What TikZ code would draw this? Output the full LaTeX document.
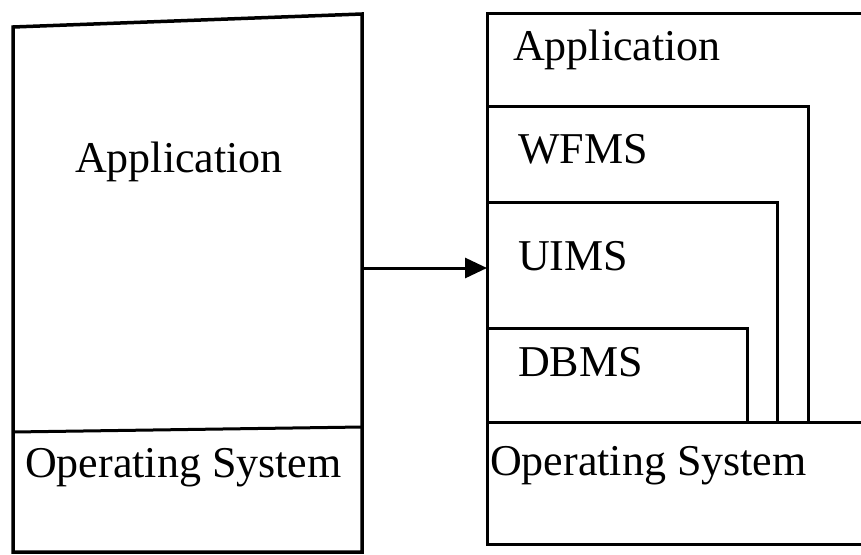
\documentclass[tikz,border=0pt]{standalone}
\usepackage{fontspec}
\setmainfont{Liberation Serif}
\usetikzlibrary{arrows.meta}

\begin{document}
\begin{tikzpicture}[x=1pt, y=-1pt]

\tikzstyle{every node} = [inner sep=0pt, font=\fontsize{44}{48}\selectfont]
\tikzstyle{lbl} = [anchor=base west]
\tikzstyle{frame} = [line width=3pt, line join=miter]

\useasboundingbox (0,0) rectangle (861,554);

% left side
\coordinate (la) at (13,552);
\coordinate (lb) at (13,27);
\coordinate (lc) at (362,14);
\coordinate (ld) at (362,552);
\draw[frame, line width=3.5pt] (la) -- (lb) -- (lc) -- (ld) -- cycle;
\draw[frame] (13,432) -- (362,427);

\node[lbl] (app1) at (75,172) {Application};
\node[lbl] (os1) at (25,477) {Operating System};

% right side
\draw[frame] (861,13) -- (487,13) -- (487,544) -- (861,544);
\draw[frame] (487,422) -- (861,422);
\draw[frame] (487,106) -- (808,106) -- (808,422);
\draw[frame] (487,202) -- (777,202) -- (777,422);
\draw[frame] (487,328) -- (747,328) -- (747,422);

\node[lbl] (app2) at (513,60) {Application};
\node[lbl] (wfms) at (518,163) {WFMS};
\node[lbl] (uims) at (518,270) {UIMS};
\node[lbl] (dbms) at (518,376) {DBMS};
\node[lbl] (os2) at (490,475) {Operating System};

\coordinate (from) at (362,268);
\coordinate (to) at (487,268);
\draw[line width=3pt, -{Triangle[length=22pt, width=20pt]}] (from) -- (to);
\end{tikzpicture}
\end{document}
